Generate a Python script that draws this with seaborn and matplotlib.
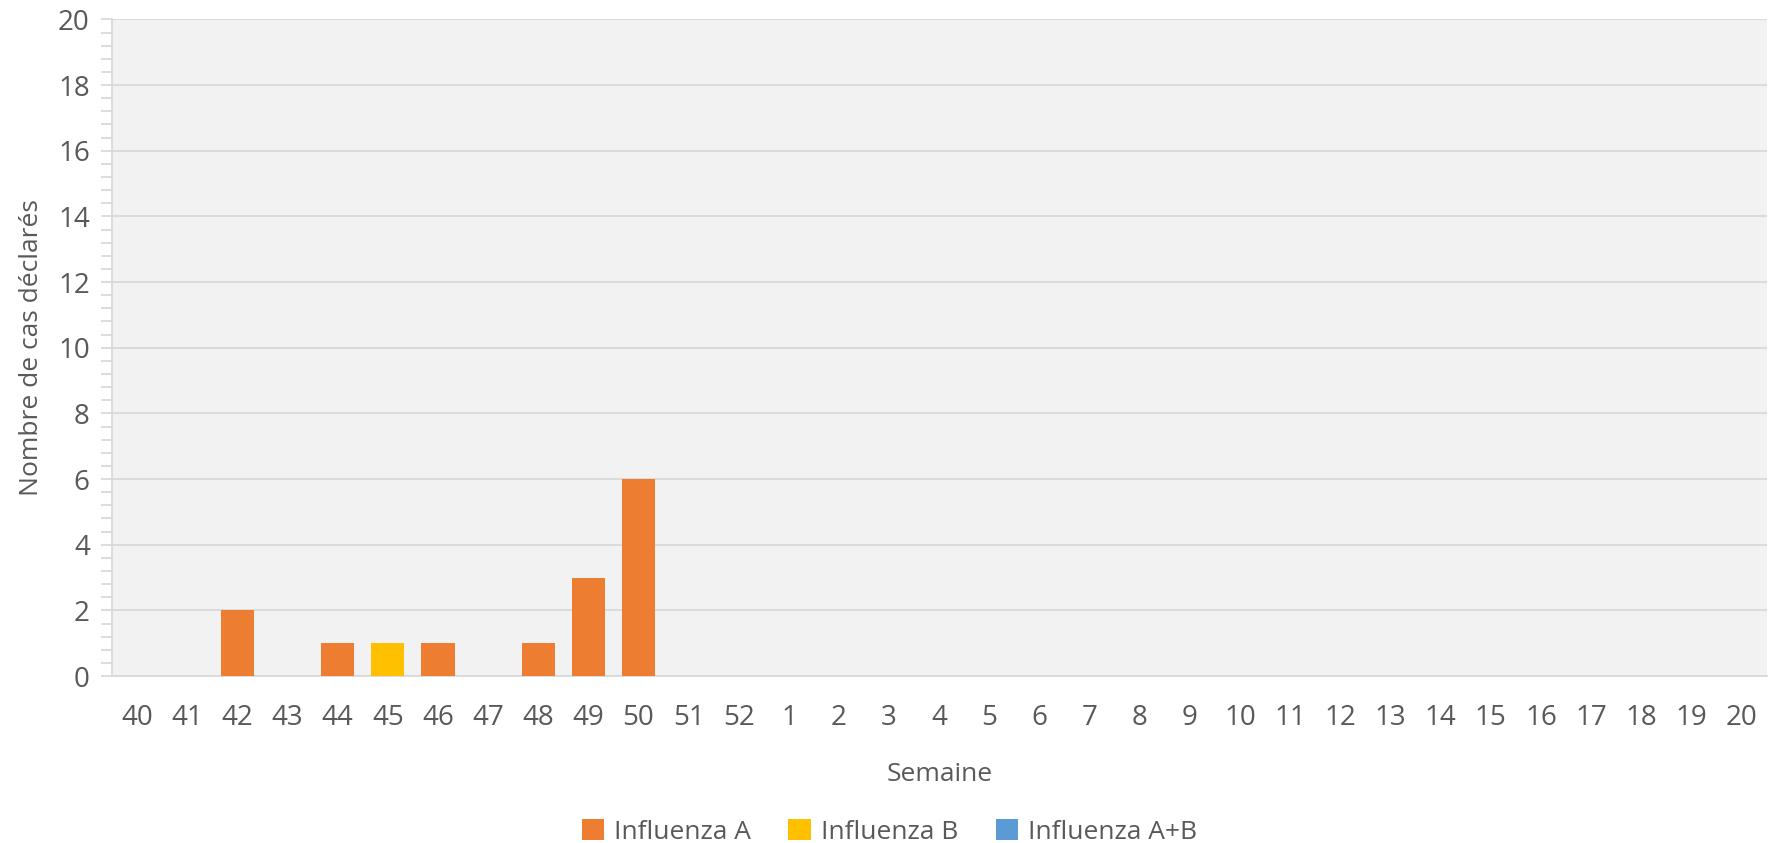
import matplotlib.pyplot as plt
import seaborn as sns
import pandas as pd
from matplotlib.patches import Patch
from matplotlib.ticker import MultipleLocator

# weeks 40-52 then 1-20
weeks = [str(w) for w in list(range(40, 53)) + list(range(1, 21))]
flu_a = [0, 0, 2, 0, 1, 0, 1, 0, 1, 3, 6] + [0] * 22
flu_b = [0, 0, 0, 0, 0, 1, 0, 0, 0, 0, 0] + [0] * 22
flu_ab = [0] * 33

labels = ["Influenza A", "Influenza B", "Influenza A+B"]
colors = ["#ED7D31", "#FFC000", "#5B9BD5"]

df = pd.DataFrame({"semaine": weeks, "A": flu_a, "B": flu_b, "AB": flu_ab})
df["top_b"] = df["A"] + df["B"]
df["top_ab"] = df["top_b"] + df["AB"]

sns.set_style("white")
plt.rcParams["font.family"] = ["Open Sans", "DejaVu Sans"]
text_col = "#595959"
grid_col = "#D9D9D9"

fig = plt.figure(figsize=(17.79, 8.43), dpi=100)
ax = fig.add_axes([0.063, 0.198, 0.930, 0.779])
ax.set_facecolor("#F2F2F2")

# stacked bars: draw cumulative totals from the top down
for col, c in zip(["top_ab", "top_b", "A"], colors[::-1]):
    sns.barplot(data=df, x="semaine", y=col, order=weeks, color=c,
                width=0.66, linewidth=0, saturation=1, ax=ax, zorder=3)

ax.set_ylim(0, 20)
ax.set_xlim(-0.5, len(weeks) - 0.5)
ax.yaxis.set_major_locator(MultipleLocator(2))
ax.yaxis.set_minor_locator(MultipleLocator(0.4))
ax.grid(axis="y", which="major", color=grid_col, linewidth=1.3, zorder=0)
ax.set_axisbelow(True)

for s in ["top", "right"]:
    ax.spines[s].set_visible(False)
for s in ["left", "bottom"]:
    ax.spines[s].set_color(grid_col)
    ax.spines[s].set_linewidth(1.3)

ax.tick_params(axis="y", which="both", length=8, width=1.3, color=grid_col,
               labelcolor=text_col, labelsize=20, pad=8, left=True)
ax.tick_params(axis="x", length=0, labelcolor=text_col, labelsize=20, pad=20)

ax.set_xlabel("Semaine", color=text_col, fontsize=19, labelpad=22)
ax.set_ylabel("Nombre de cas déclarés", color=text_col, fontsize=19, labelpad=10)

handles = [Patch(facecolor=c, edgecolor="none") for c in colors]
fig.legend(handles, labels, loc="lower center", bbox_to_anchor=(0.5, -0.03),
           ncol=3, frameon=False, fontsize=19, labelcolor=text_col,
           handlelength=0.85, handleheight=0.85, handletextpad=0.4,
           columnspacing=1.4)

fig.savefig("out.png", dpi=100)
